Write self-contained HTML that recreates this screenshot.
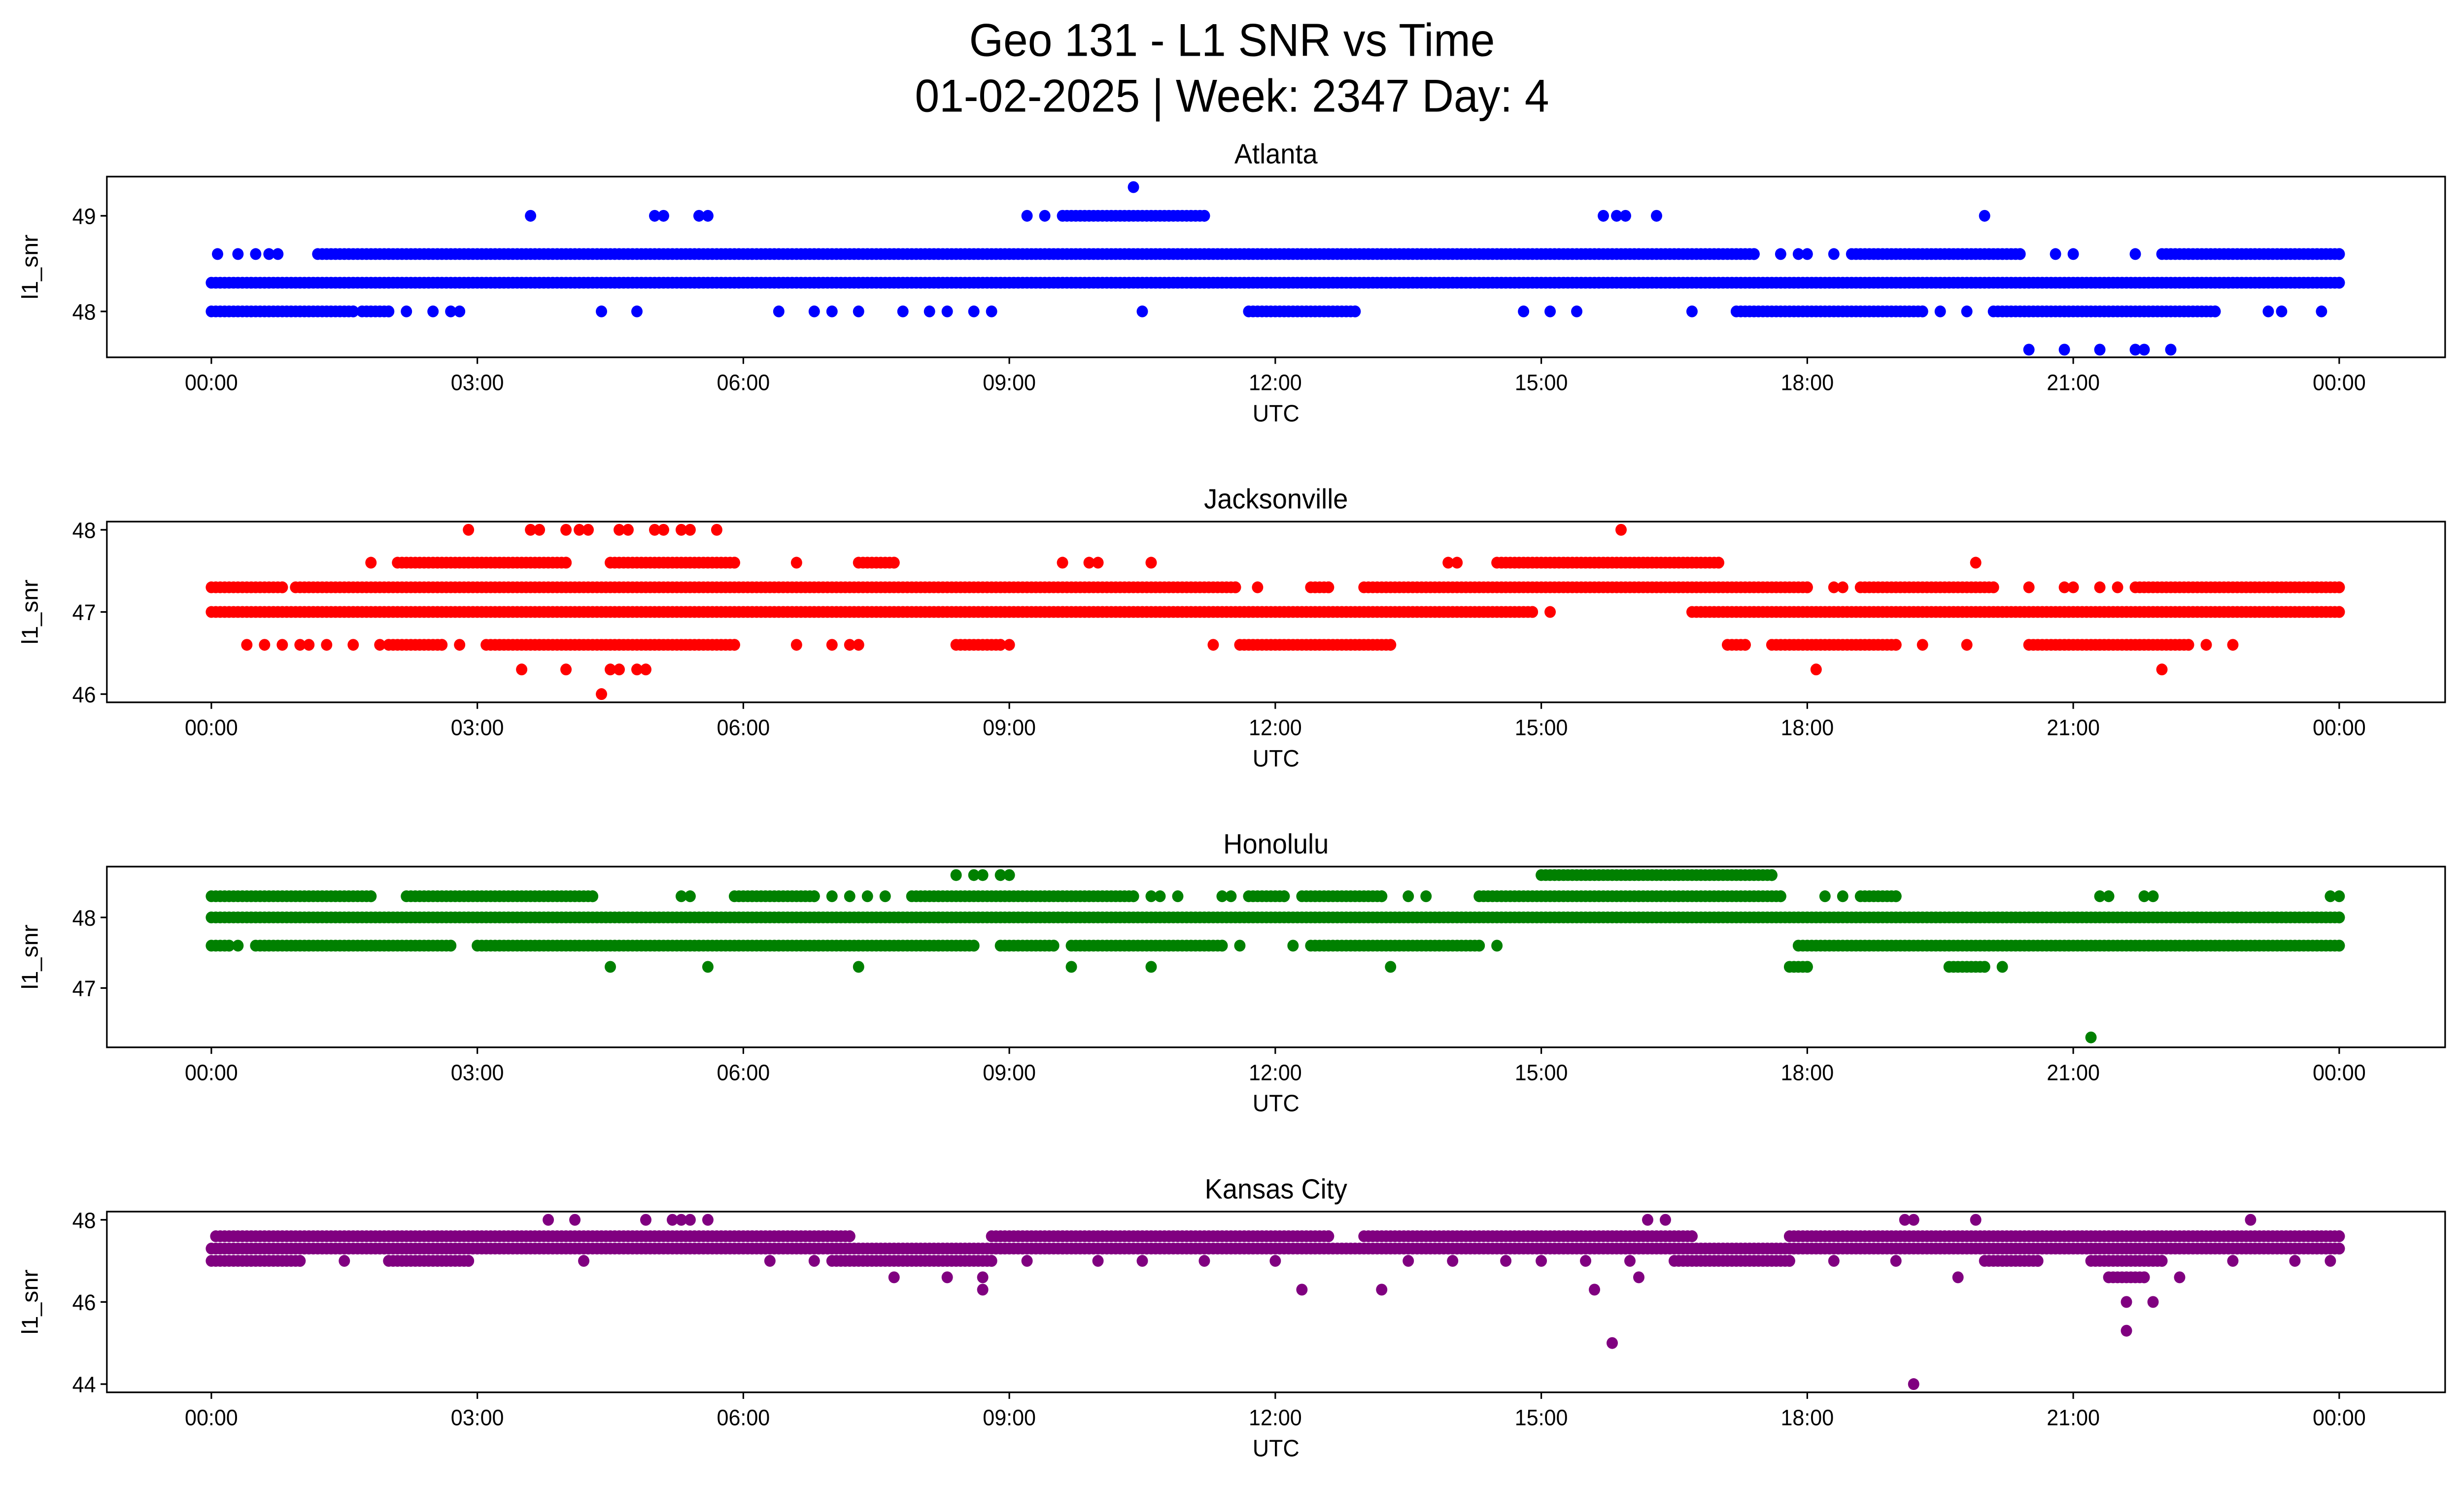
<!DOCTYPE html>
<html><head><meta charset="utf-8"><style>
html,body{margin:0;padding:0;background:#fff;overflow:hidden;width:100%;height:100%}
svg{display:block;width:100vw;height:100vh}
text{font-family:"Liberation Sans","DejaVu Sans",sans-serif;fill:#000}
</style></head><body>
<svg id="fig" xmlns="http://www.w3.org/2000/svg" viewBox="0 0 1568 910" preserveAspectRatio="none">
<rect width="1568" height="910" fill="#fff"/>
<text x="784" y="34" font-size="28" text-anchor="middle">Geo 131 - L1 SNR vs Time</text>
<text x="784" y="68" font-size="28" text-anchor="middle">01-02-2025 | Week: 2347 Day: 4</text>
<g id="panels"></g>
</svg>
<script>
// ---- data: runs are [level, startHour, endHour]; dots are [level, hour] ----
const panelTitles = ["Atlanta","Jacksonville","Honolulu","Kansas City"];
const panelColors = ["#0000ff","#ff0000","#008000","#800080"];
const yTicks = [[48,49],[46,47,48],[47,48],[44,46,48]];
const yRanges = [[47.52,49.41],[45.9,48.1],[46.16,48.72],[43.8,48.2]];
const xTickHours = [0,3,6,9,12,15,18,21,24];
const xTickLabels = ["00:00","03:00","06:00","09:00","12:00","15:00","18:00","21:00","00:00"];

const atlRuns = [[48.3,0,24],[48.6,1.2,17.4],[48.6,18.5,20.4],[48.6,22.0,24],[48.0,0,1.6],[48.0,1.7,2.0],[48.0,11.7,12.9],[48.0,17.2,19.3],[48.0,20.1,22.6],[49.0,9.6,11.2]];
const atlDots = [[48.6,0.07],[48.6,0.3],[48.6,0.5],[48.6,0.65],[48.6,0.75],[48.6,17.7],[48.6,17.9],[48.6,18.0],[48.6,18.3],[48.6,20.8],[48.6,21.0],[48.6,21.7],
[48.0,2.2],[48.0,2.5],[48.0,2.7],[48.0,2.8],[48.0,4.4],[48.0,4.8],[48.0,6.4],[48.0,6.8],[48.0,7.0],[48.0,7.3],[48.0,7.8],[48.0,8.1],[48.0,8.3],[48.0,8.6],[48.0,8.8],[48.0,10.5],[48.0,14.8],[48.0,15.1],[48.0,15.4],[48.0,16.7],[48.0,19.5],[48.0,19.8],[48.0,23.2],[48.0,23.35],[48.0,23.8],
[49.0,3.6],[49.0,5.0],[49.0,5.1],[49.0,5.5],[49.0,5.6],[49.0,9.2],[49.0,9.4],[49.0,15.7],[49.0,15.85],[49.0,15.95],[49.0,16.3],[49.0,20.0],[49.3,10.4],
[47.6,20.5],[47.6,20.9],[47.6,21.3],[47.6,21.7],[47.6,21.8],[47.6,22.1]];

const jaxRuns = [[47.0,0,14.9],[47.0,16.7,24],[47.3,0,0.8],[47.3,0.95,11.55],[47.3,12.4,12.6],[47.3,13.0,18.0],[47.3,18.6,20.1],[47.3,21.7,24],
[46.6,2.0,2.6],[46.6,3.1,5.9],[46.6,8.4,8.9],[46.6,11.6,13.3],[46.6,17.1,17.3],[46.6,17.6,19.0],[46.6,20.5,22.3],
[47.6,2.1,4.0],[47.6,4.5,5.9],[47.6,7.3,7.7],[47.6,14.5,17.0]];
const jaxDots = [[47.0,15.1],[47.3,11.8],[47.3,18.3],[47.3,18.4],[47.3,20.5],[47.3,20.9],[47.3,21.0],[47.3,21.3],[47.3,21.5],
[46.6,0.4],[46.6,0.6],[46.6,0.8],[46.6,1.0],[46.6,1.1],[46.6,1.3],[46.6,1.6],[46.6,1.9],[46.6,2.8],[46.6,6.6],[46.6,7.0],[46.6,7.2],[46.6,7.3],[46.6,9.0],[46.6,11.3],[46.6,19.3],[46.6,19.8],[46.6,22.5],[46.6,22.8],
[47.6,1.8],[47.6,6.6],[47.6,9.6],[47.6,9.9],[47.6,10.0],[47.6,10.6],[47.6,13.95],[47.6,14.05],[47.6,19.9],
[48.0,2.9],[48.0,3.6],[48.0,3.7],[48.0,4.0],[48.0,4.15],[48.0,4.25],[48.0,4.6],[48.0,4.7],[48.0,5.0],[48.0,5.1],[48.0,5.3],[48.0,5.4],[48.0,5.7],[48.0,15.9],
[46.3,3.5],[46.3,4.0],[46.3,4.5],[46.3,4.6],[46.3,4.8],[46.3,4.9],[46.3,18.1],[46.3,22.0],[46.0,4.4]];

const honRuns = [[48.0,0,24],[48.3,0,1.8],[48.3,2.2,4.3],[48.3,5.9,6.8],[48.3,7.9,10.4],[48.3,11.7,12.1],[48.3,12.3,13.2],[48.3,14.3,17.7],[48.3,18.6,19.0],
[47.6,0,0.2],[47.6,0.5,2.7],[47.6,3.0,8.6],[47.6,8.9,9.5],[47.6,9.7,11.4],[47.6,12.4,14.3],[47.6,17.9,24],[48.6,15.0,17.6],[47.3,19.6,20.0],[47.3,17.8,18.0]];
const honDots = [[48.3,5.3],[48.3,5.4],[48.3,7.0],[48.3,7.2],[48.3,7.4],[48.3,7.6],[48.3,10.6],[48.3,10.7],[48.3,10.9],[48.3,11.4],[48.3,11.5],[48.3,13.5],[48.3,13.7],[48.3,18.2],[48.3,18.4],[48.3,21.3],[48.3,21.4],[48.3,21.8],[48.3,21.9],[48.3,23.9],[48.3,24.0],
[47.6,0.3],[47.6,11.6],[47.6,12.2],[47.6,14.5],[48.6,8.4],[48.6,8.6],[48.6,8.7],[48.6,8.9],[48.6,9.0],
[47.3,4.5],[47.3,5.6],[47.3,7.3],[47.3,9.7],[47.3,10.6],[47.3,13.3],[47.3,20.2],[46.3,21.2]];

const kcRuns = [[47.3,0,24],[47.6,0.05,7.2],[47.6,8.8,12.6],[47.6,13.0,16.7],[47.6,17.8,24],[47.0,0,1.0],[47.0,2.0,2.9],[47.0,7.0,8.8],[47.0,16.5,17.8],[47.0,20.0,20.6],[47.0,21.2,22.0],[46.6,21.4,21.8]];
const kcDots = [[47.0,1.5],[47.0,4.2],[47.0,6.3],[47.0,6.8],[47.0,9.2],[47.0,10.0],[47.0,10.5],[47.0,11.2],[47.0,12.0],[47.0,13.5],[47.0,14.0],[47.0,14.6],[47.0,15.0],[47.0,15.5],[47.0,16.0],[47.0,18.3],[47.0,19.0],[47.0,22.8],[47.0,23.5],[47.0,23.9],
[48.0,3.8],[48.0,4.1],[48.0,4.9],[48.0,5.2],[48.0,5.3],[48.0,5.4],[48.0,5.6],[48.0,16.2],[48.0,16.4],[48.0,19.1],[48.0,19.2],[48.0,19.9],[48.0,23.0],
[46.6,7.7],[46.6,8.3],[46.6,8.7],[46.6,16.1],[46.6,19.7],[46.6,22.2],[46.3,8.7],[46.3,12.3],[46.3,13.2],[46.3,15.6],[46.0,21.6],[46.0,21.9],[45.3,21.6],[45.0,15.8],[44.0,19.2]];

const allRuns = [atlRuns, jaxRuns, honRuns, kcRuns];
const allDots = [atlDots, jaxDots, honDots, kcDots];

// ---- layout ----
const NS = "http://www.w3.org/2000/svg";
const axL = 68, axR = 1556, axH = 110, axTops = [107.5,317.5,527.5,737.5];
const x0 = 134.5, x24 = 1488.6;
const xScale = h => x0 + (x24 - x0) * h / 24;
const panelsG = document.getElementById('panels');
function mk(tag, attrs, parent){const e=document.createElementNS(NS,tag);for(const k in attrs)e.setAttribute(k,attrs[k]);parent.appendChild(e);return e;}

for (let p=0;p<4;p++){
  const top = axTops[p], bot = top+axH;
  const [lo,hi] = yRanges[p];
  const yScale = v => bot - (v-lo)/(hi-lo)*axH;
  const g = mk('g',{},panelsG);
  
  
  const t = mk('text',{x:(axL+axR)/2,y:top-8,'font-size':17,'text-anchor':'middle'},g);
  t.textContent = panelTitles[p];
  
  
  const pts = mk('g',{fill:panelColors[p]},g);
  
  
  const addDot = (v,h)=>{const c=mk('circle',{cx:xScale(h).toFixed(2),cy:yScale(v).toFixed(2),r:3.6},pts);
    
    };
  for (const [v,a,b] of allRuns[p]) { for (let h=a; h<=b+1e-9; h+=0.05) addDot(v,h); addDot(v,b); }
  for (const [v,h] of allDots[p]) addDot(v,h);
  const fr = mk('rect',{x:axL,y:top,width:axR-axL,height:axH,fill:'none',stroke:'#000','stroke-width':1},g);
  
  
  for (let i=0;i<xTickHours.length;i++){
    const x = xScale(xTickHours[i]);
    mk('line',{x1:x,x2:x,y1:bot,y2:bot+4,stroke:'#000','stroke-width':1},g);
    const tl = mk('text',{x:x,y:bot+20,'font-size':13.5,'text-anchor':'middle'},g);
    tl.textContent = xTickLabels[i];
    
    
  }
  const xl = mk('text',{x:(axL+axR)/2,y:bot+39,'font-size':14.5,'text-anchor':'middle'},g);
  xl.textContent = 'UTC';
  
  
  for (const v of yTicks[p]){
    const y = yScale(v);
    mk('line',{x1:axL-4,x2:axL,y1:y,y2:y,stroke:'#000','stroke-width':1},g);
    const yl = mk('text',{x:axL-7,y:y+5,'font-size':13.5,'text-anchor':'end'},g);
    yl.textContent = String(v);
    
    
  }
  const yt = mk('text',{x:24,y:top+axH/2,'font-size':14.5,'text-anchor':'middle',transform:`rotate(-90 24 ${top+axH/2})`},g);
  yt.textContent = 'l1_snr';
  
  
}
</script>
</body></html>
